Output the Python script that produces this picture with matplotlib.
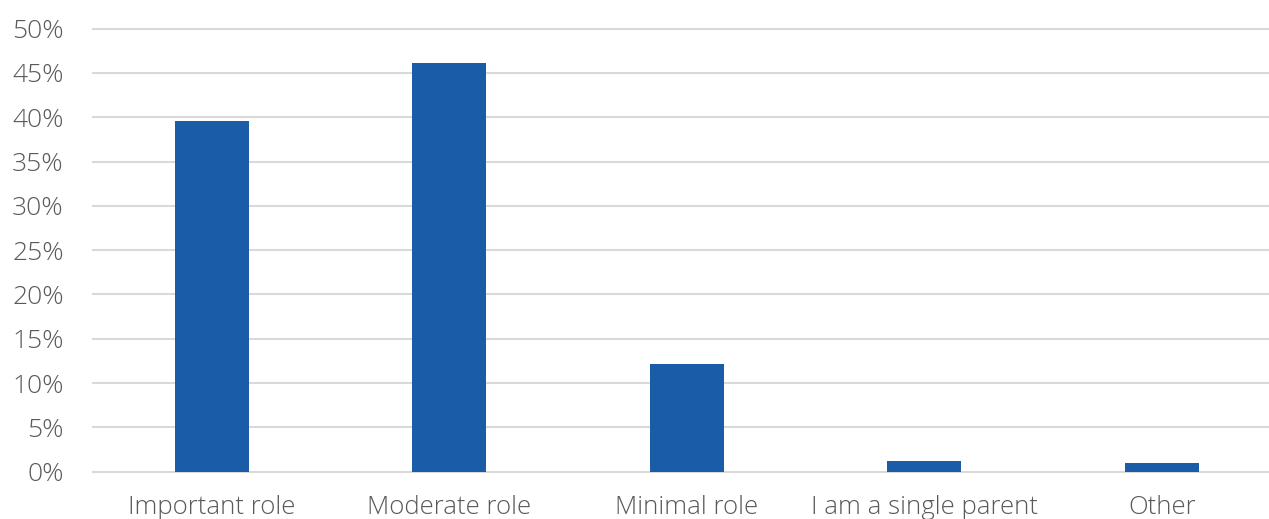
import matplotlib.pyplot as plt
from matplotlib.ticker import PercentFormatter

kategorie = ["Important role", "Moderate role", "Minimal role",
             "I am a single parent", "Other"]
procenty = [39.6, 46.1, 12.1, 1.2, 0.95]
yticki = [0, 5, 10, 15, 20, 25, 30, 35, 40, 45, 50]

plt.rcParams['font.family'] = ['Open Sans', 'DejaVu Sans']
plt.rcParams['font.weight'] = 'light'

fig = plt.figure(figsize=(12.69, 5.19), dpi=100)
ax = fig.add_axes([93 / 1269, 1 - 471.7 / 519, 1187.5 / 1269, 443 / 519])

x = range(len(kategorie))
ax.bar(x, procenty, width=0.31, color="#1a5ca8", zorder=3)

ax.set_xlim(-0.5, 4.5)
ax.set_ylim(0, 50)
ax.set_yticks(yticki)
ax.yaxis.set_major_formatter(PercentFormatter(decimals=0))
ax.set_xticks(list(x))
ax.set_xticklabels(kategorie)

ax.grid(axis="y", color="#d9d9d9", linewidth=1.5, zorder=0)
for g in ax.get_ygridlines():
    g.set_clip_on(False)
for s in ax.spines.values():
    s.set_visible(False)
ax.tick_params(axis="y", length=0, pad=21, labelsize=19, labelcolor="#595959")
ax.tick_params(axis="x", length=0, pad=17, labelsize=18.5, labelcolor="#595959")

fig.savefig("out.png", dpi=100)
